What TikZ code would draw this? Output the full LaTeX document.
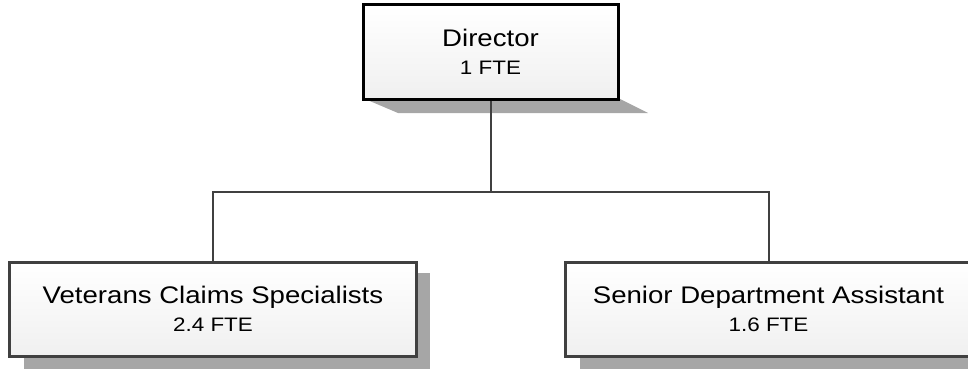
\documentclass[tikz,border=0pt]{standalone}
\usepackage{fontspec}
\setmainfont{Liberation Sans}[FakeStretch=1.15]
\usetikzlibrary{calc}
\definecolor{shadowgray}{HTML}{A6A6A6}
\definecolor{linegray}{HTML}{404040}
\begin{document}
\begin{tikzpicture}[x=1pt,y=-1pt,
  boxbase/.style={rectangle, inner sep=0pt, minimum width=#1, minimum height=94pt,
    top color=white, bottom color=black!6, align=center,
    font=\fontsize{24}{27.5}\selectfont},
  topbox/.style={boxbase=255pt, draw=black, line width=3pt},
  subbox/.style={boxbase=407pt, draw=linegray, line width=3pt},
  conn/.style={draw=linegray, line width=2pt}
]
\clip (0,0) rectangle (968,369);
\useasboundingbox (0,0) rectangle (968,369);
% shadows (drawn first)
\fill[shadowgray] (365,99) -- (620,99) -- (648,113) -- (398,113) -- cycle;
\fill[shadowgray] (24,273) rectangle (430,380);
\fill[shadowgray] (580,273) rectangle (990,380);
% boxes
\node[topbox] (dir) at (490.5,52) {Director\\{\fontsize{19.5}{27.5}\selectfont 1 FTE}};
\node[subbox] (vcs) at (213,309) {Veterans Claims Specialists\\{\fontsize{19.5}{27}\selectfont 2.4 FTE}};
\node[subbox] (sda) at (768.5,309) {Senior Department Assistant\\{\fontsize{19.5}{27}\selectfont 1.6 FTE}};
% connectors
\coordinate (bus) at (490.5,192);
\draw[conn] (dir.south) -- (bus);
\draw[conn] (bus) -| (vcs.north);
\draw[conn] (bus) -| (sda.north);
\end{tikzpicture}
\end{document}
